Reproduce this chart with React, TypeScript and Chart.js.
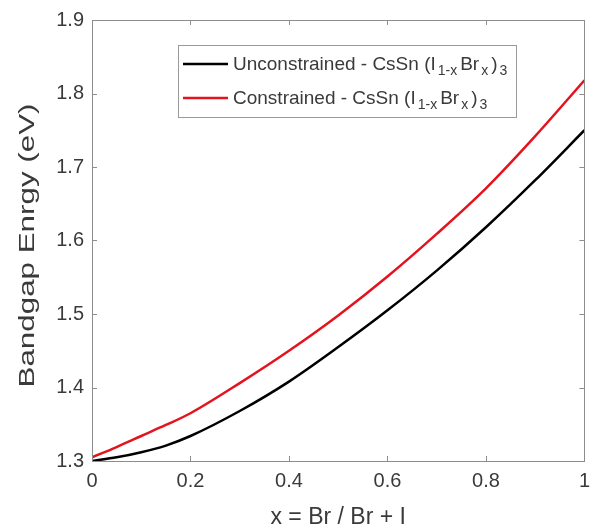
import React, { useEffect, useRef } from "react";
import { Chart, registerables } from "chart.js";

Chart.register(...registerables);

const xValues = [0, 0.05, 0.1, 0.15, 0.2, 0.3, 0.4, 0.5, 0.6, 0.7, 0.8, 0.9, 1.0];
const unconstrained = [1.3, 1.305, 1.312, 1.321, 1.334, 1.368, 1.408, 1.455, 1.505, 1.559, 1.618, 1.682, 1.75];
const constrained = [1.305, 1.319, 1.334, 1.349, 1.365, 1.406, 1.45, 1.498, 1.551, 1.609, 1.671, 1.742, 1.818];
const seriesNames = ["Unconstrained - CsSn (I", "Constrained - CsSn (I"];
const seriesColors = ["#000000", "#e3141e"];
const xTitle = "x = Br / Br + I";
const yTitle = "Bandgap Enrgy (eV)";

const FONT = "'Liberation Sans', Arial, Helvetica, sans-serif";
const TEXT = "#3a3a3a";
const AXIS = "#8c8c8c";

const boxPlugin = {
  id: "matlabBox",
  afterDraw(chart: any) {
    const { ctx, chartArea, scales } = chart;
    const { left, right, top, bottom } = chartArea;
    const xs = scales.x;
    const ys = scales.y;
    ctx.save();
    ctx.strokeStyle = AXIS;
    ctx.lineWidth = 1;
    ctx.strokeRect(Math.round(left) + 0.5, Math.round(top) + 0.5, Math.round(right - left), Math.round(bottom - top));
    const tl = 5;
    ctx.beginPath();
    xs.ticks.forEach((t: any) => {
      const px = Math.round(xs.getPixelForValue(t.value)) + 0.5;
      ctx.moveTo(px, bottom);
      ctx.lineTo(px, bottom - tl);
      ctx.moveTo(px, top);
      ctx.lineTo(px, top + tl);
    });
    ys.ticks.forEach((t: any) => {
      const py = Math.round(ys.getPixelForValue(t.value)) + 0.5;
      ctx.moveTo(left, py);
      ctx.lineTo(left + tl, py);
      ctx.moveTo(right, py);
      ctx.lineTo(right - tl, py);
    });
    ctx.stroke();

    // y title (drawn elongated like the reference)
    ctx.save();
    ctx.fillStyle = TEXT;
    ctx.font = "22px " + FONT;
    ctx.textAlign = "center";
    ctx.textBaseline = "middle";
    ctx.translate(28, (top + bottom) / 2 + 5);
    ctx.rotate(-Math.PI / 2);
    const w = ctx.measureText(yTitle).width;
    ctx.scale(284 / w, 1);
    ctx.fillText(yTitle, 0, 0);
    ctx.restore();

    // legend
    const bx = 178, by = 45, bw = 338, bh = 72;
    ctx.fillStyle = "#ffffff";
    ctx.fillRect(bx, by, bw, bh);
    ctx.strokeStyle = "#9a9a9a";
    ctx.lineWidth = 1;
    ctx.strokeRect(bx + 0.5, by + 0.5, bw, bh);
    const rows = [64, 98];
    seriesNames.forEach((name, i) => {
      const yy = rows[i];
      ctx.strokeStyle = seriesColors[i];
      ctx.lineWidth = 2.5;
      ctx.beginPath();
      ctx.moveTo(183, yy);
      ctx.lineTo(228, yy);
      ctx.stroke();
      ctx.fillStyle = TEXT;
      ctx.textBaseline = "alphabetic";
      ctx.textAlign = "left";
      const base = yy + 6;
      let cx = 233;
      const main = "19px " + FONT;
      const sub = "14px " + FONT;
      const parts: [string, boolean][] = [
        [name, false],
        ["1-x", true],
        ["Br", false],
        ["x", true],
        [")", false],
        ["3", true],
      ];
      parts.forEach(([txt, isSub], k) => {
        ctx.font = isSub ? sub : main;
        ctx.fillText(txt, cx + (isSub ? 1 : 0), isSub ? base + 5 : base);
        cx += ctx.measureText(txt).width + (isSub ? 4 : 1);
      });
    });
    ctx.restore();
  },
};

export default function App() {
  const ref = useRef<HTMLCanvasElement | null>(null);
  useEffect(() => {
    document.body.style.margin = "0";
    const canvas = ref.current;
    if (!canvas) return;
    const mk = (vals: number[]) => xValues.map((x, i) => ({ x, y: vals[i] }));
    const chart = new Chart(canvas, {
      type: "line",
      data: {
        datasets: [
          {
            label: seriesNames[0],
            data: mk(unconstrained),
            borderColor: seriesColors[0],
            borderWidth: 2.5,
            pointRadius: 0,
            cubicInterpolationMode: "monotone",
            fill: false,
          },
          {
            label: seriesNames[1],
            data: mk(constrained),
            borderColor: seriesColors[1],
            borderWidth: 2.5,
            pointRadius: 0,
            cubicInterpolationMode: "monotone",
            fill: false,
          },
        ],
      },
      options: {
        animation: false,
        responsive: false,
        devicePixelRatio: 1,
        layout: { padding: { top: 17, right: 11, left: 0, bottom: 0 } },
        plugins: { legend: { display: false }, tooltip: { enabled: false } },
        scales: {
          x: {
            type: "linear",
            min: 0,
            max: 1,
            grid: { display: false, drawTicks: false },
            border: { display: false },
            ticks: {
              stepSize: 0.2,
              padding: 8,
              color: TEXT,
              font: { family: FONT, size: 20 },
              maxRotation: 0,
              callback: (v: any) => {
                const n = Number(v);
                if (Math.abs(n) < 1e-9) return "0";
                if (Math.abs(n - 1) < 1e-9) return "1";
                return n.toFixed(1);
              },
            },
            title: {
              display: true,
              text: xTitle,
              color: TEXT,
              font: { family: FONT, size: 23 },
              padding: { top: 0, bottom: 0 },
            },
            afterFit: (s: any) => {
              s.height = 70;
            },
          },
          y: {
            type: "linear",
            min: 1.3,
            max: 1.9,
            grid: { display: false, drawTicks: false },
            border: { display: false },
            ticks: {
              stepSize: 0.1,
              padding: 8,
              color: TEXT,
              font: { family: FONT, size: 20 },
              callback: (v: any) => Number(v).toFixed(1),
            },
            title: { display: false },
            afterFit: (s: any) => {
              s.width = 92;
            },
          },
        },
      },
      plugins: [boxPlugin],
    } as any);
    return () => chart.destroy();
  }, []);
  return <canvas ref={ref} width={598} height={531} style={{ display: "block" }} />;
}
